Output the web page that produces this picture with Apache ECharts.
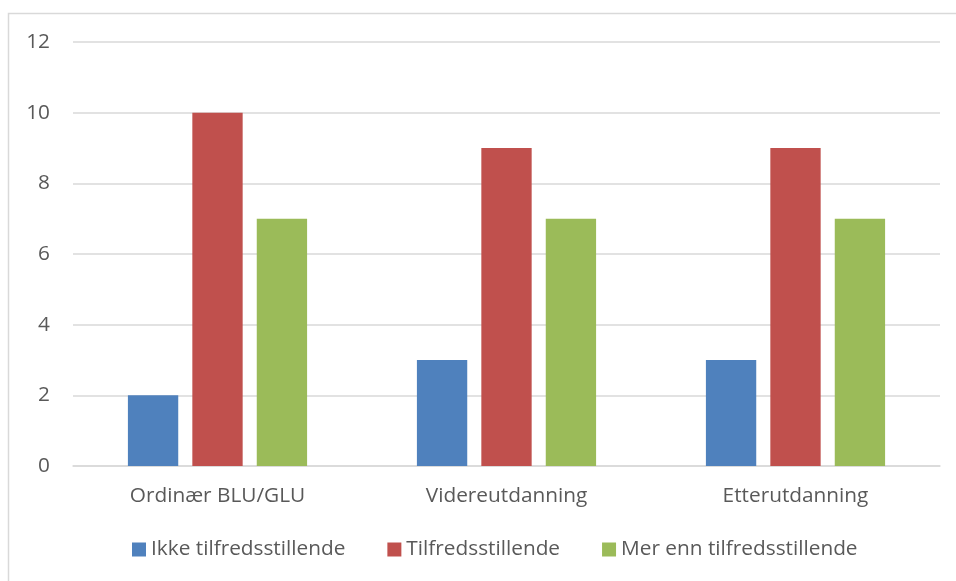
<!DOCTYPE html>
<html>
<head>
<meta charset="utf-8">
<script src="https://cdn.jsdelivr.net/npm/echarts@6/dist/echarts.min.js"></script>
<style>
  html, body { margin: 0; padding: 0; background: #fff; }
  #chart { width: 956px; height: 581px; }
</style>
</head>
<body>
<div id="chart"></div>
<script>
// Categories and series values
const categories = ['Ordinær BLU/GLU', 'Videreutdanning', 'Etterutdanning'];
const seriesNames = ['Ikke tilfredsstillende', 'Tilfredsstillende', 'Mer enn tilfredsstillende'];
const ikkeTilfreds = [2, 3, 3];
const tilfreds = [10, 9, 9];
const merEnnTilfreds = [7, 7, 7];
const yTicks = [0, 2, 4, 6, 8, 10, 12];

const colors = ['#4F81BD', '#C0504D', '#9BBB59'];
const fontFamily = '"Open Sans", sans-serif';
const textColor = '#595959';
const fontSize = 20.8;

const chart = echarts.init(document.getElementById('chart'));

function bar(name, data, color) {
  return {
    name: name,
    type: 'bar',
    data: data,
    barGap: '28%',
    barCategoryGap: '38%',
    itemStyle: { color: color },
    emphasis: { disabled: true }
  };
}

chart.setOption({
  animation: false,
  backgroundColor: '#fff',
  color: colors,
  graphic: [{
    type: 'rect',
    shape: { x: 8.5, y: 13.5, width: 960, height: 600 },
    style: { fill: 'none', stroke: '#d9d9d9', lineWidth: 1.5 },
    silent: true
  }],
  grid: { left: 73, right: 16, top: 42, bottom: 115 },
  legend: {
    bottom: 16,
    left: 127,
    itemWidth: 14,
    itemHeight: 14,
    itemGap: 42,
    icon: 'rect',
    textStyle: { color: textColor, fontSize: fontSize, fontFamily: fontFamily },
    data: seriesNames
  },
  xAxis: {
    type: 'category',
    data: categories,
    axisLine: { lineStyle: { color: '#d9d9d9', width: 1.5 } },
    axisTick: { show: false },
    axisLabel: { color: textColor, fontSize: fontSize, fontFamily: fontFamily, margin: 20 }
  },
  yAxis: {
    type: 'value',
    min: yTicks[0],
    max: yTicks[yTicks.length - 1],
    interval: 2,
    axisLine: { show: false },
    axisTick: { show: false },
    splitLine: { lineStyle: { color: '#d9d9d9', width: 1.5 } },
    axisLabel: { color: textColor, fontSize: fontSize, fontFamily: fontFamily, margin: 23 }
  },
  series: [
    bar(seriesNames[0], ikkeTilfreds, colors[0]),
    bar(seriesNames[1], tilfreds, colors[1]),
    bar(seriesNames[2], merEnnTilfreds, colors[2])
  ]
});
</script>
</body>
</html>
